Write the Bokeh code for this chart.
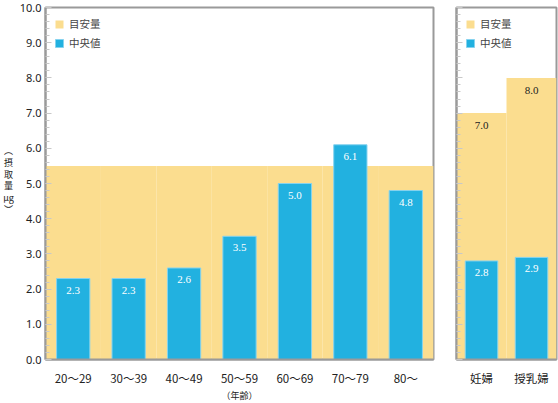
from bokeh.plotting import figure
from bokeh.layouts import row
from bokeh.models import (ColumnDataSource, LabelSet, Legend, LegendItem,
                          PrintfTickFormatter, FixedTicker, Range1d, FactorRange)
from bokeh.core.properties import value
from bokeh.embed import file_html
from bokeh.resources import INLINE

# ---- data ----
age_groups = ["20～29", "30～39", "40～49", "50～59", "60～69", "70～79", "80～"]
age_median = [2.3, 2.3, 2.6, 3.5, 5.0, 6.1, 4.8]
age_target = [5.5, 5.5, 5.5, 5.5, 5.5, 5.5, 5.5]

special_groups = ["妊婦", "授乳婦"]
special_median = [2.8, 2.9]
special_target = [7.0, 8.0]

y_ticks = [0, 1, 2, 3, 4, 5, 6, 7, 8, 9, 10]
legend_labels = ["目安量", "中央値"]
y_title = "︵\n摂\n取\n量\nμg\n︶"

YELLOW = "#fbdd8f"
BLUE = "#22b1e0"
BLUE_EDGE = "#86d3ef"
GRAY = "#9a9a9a"
JP = "Noto Sans CJK JP"
NUM = "Noto Sans"

FRAME_H = 352
TOP = 7
BOTTOM = 38


def make_fig(cats, median, target, frame_w, mb_left, mb_right, bar_w, show_labels, show_target_labels, xlabel):
    p = figure(x_range=FactorRange(*cats), y_range=Range1d(0, 10),
               frame_width=frame_w, frame_height=FRAME_H, output_backend="svg", toolbar_location=None,
               min_border_left=mb_left, min_border_right=mb_right,
               min_border_top=TOP, min_border_bottom=BOTTOM)
    src = ColumnDataSource(dict(cat=cats, median=median, target=target,
                                mtxt=[f"{v:.1f}" for v in median],
                                ttxt=[f"{v:.1f}" for v in target]))
    r_t = p.vbar(x="cat", top="target", width=1.0, source=src, color=YELLOW, line_color=None)
    r_m = p.vbar(x="cat", top="median", width=bar_w, source=src, fill_color=BLUE,
                 line_color=BLUE_EDGE, line_width=1)
    p.add_layout(LabelSet(x="cat", y="median", text="mtxt", source=src, y_offset=-8,
                          text_align="center", text_baseline="top", text_color="white",
                          text_font=NUM, text_font_size="11px"))
    if show_target_labels:
        p.add_layout(LabelSet(x="cat", y="target", text="ttxt", source=src, y_offset=-9,
                              text_align="center", text_baseline="top", text_color="#222222",
                              text_font=NUM, text_font_size="11px"))
    legend = Legend(items=[LegendItem(label=legend_labels[0], renderers=[r_t]),
                           LegendItem(label=legend_labels[1], renderers=[r_m])],
                    location="top_left", border_line_color=None, background_fill_alpha=0,
                    glyph_width=10, glyph_height=10, label_text_font=JP,
                    label_text_font_size="10.5px", label_height=12, spacing=4,
                    padding=3, margin=9, label_standoff=5)
    p.add_layout(legend)

    p.outline_line_color = GRAY
    p.outline_line_width = 2
    p.xgrid.grid_line_color = None
    p.ygrid.grid_line_color = None
    p.background_fill_color = "white"

    ya = p.yaxis[0]
    ya.ticker = FixedTicker(ticks=y_ticks, minor_ticks=[i * 0.2 for i in range(51)])
    ya.axis_line_color = GRAY
    ya.axis_line_width = 2
    ya.major_tick_in = 6
    ya.major_tick_out = 0
    ya.minor_tick_in = 4
    ya.minor_tick_out = 0
    ya.major_tick_line_color = "#c8c8c8"
    ya.minor_tick_line_color = "#c8c8c8"
    if show_labels:
        ya.formatter = PrintfTickFormatter(format="%.1f")
        ya.major_label_text_font = NUM
        ya.major_label_text_font_size = "11px"
        ya.major_label_text_color = "#222222"
        ya.major_label_standoff = 4
    else:
        ya.major_label_overrides = {t: "" for t in y_ticks}
        ya.major_label_standoff = 0

    xa = p.xaxis[0]
    xa.axis_line_color = GRAY
    xa.axis_line_width = 2
    xa.major_tick_line_color = None
    xa.minor_tick_line_color = None
    xa.major_label_text_font = JP
    xa.major_label_text_font_size = "11.5px"
    xa.major_label_text_color = "#222222"
    xa.major_label_standoff = 4
    if xlabel:
        xa.axis_label = xlabel
        xa.axis_label_text_font = JP
        xa.axis_label_text_font_size = "9px"
        xa.axis_label_text_font_style = "normal"
        xa.axis_label_text_color = "#222222"
        xa.axis_label_standoff = 0
    return p


# narrow strip that carries the stacked (vertical) y-axis title
pt = figure(x_range=Range1d(0, 1), y_range=Range1d(0, 10), frame_width=16, frame_height=FRAME_H,
            min_border_left=0, min_border_right=0, min_border_top=TOP, min_border_bottom=BOTTOM,
            x_axis_location=None, y_axis_location=None, output_backend="svg",
            toolbar_location=None)
pt.outline_line_color = None
pt.xgrid.grid_line_color = None
pt.ygrid.grid_line_color = None
pt.text(x=[0.5], y=[5.1], text=[y_title], text_align="center", text_baseline="middle",
        text_font=value(JP), text_font_size="9px", text_line_height=0.9, text_color="#222222")

p1 = make_fig(age_groups, age_median, age_target, 388, 29, 12, 0.6, True, False, "（年齢）")
p2 = make_fig(special_groups, special_median, special_target, 100, 11, 2, 0.65, False, True, None)

layout = row(pt, p1, p2)
open("out.html", "w").write(file_html(layout, INLINE))
